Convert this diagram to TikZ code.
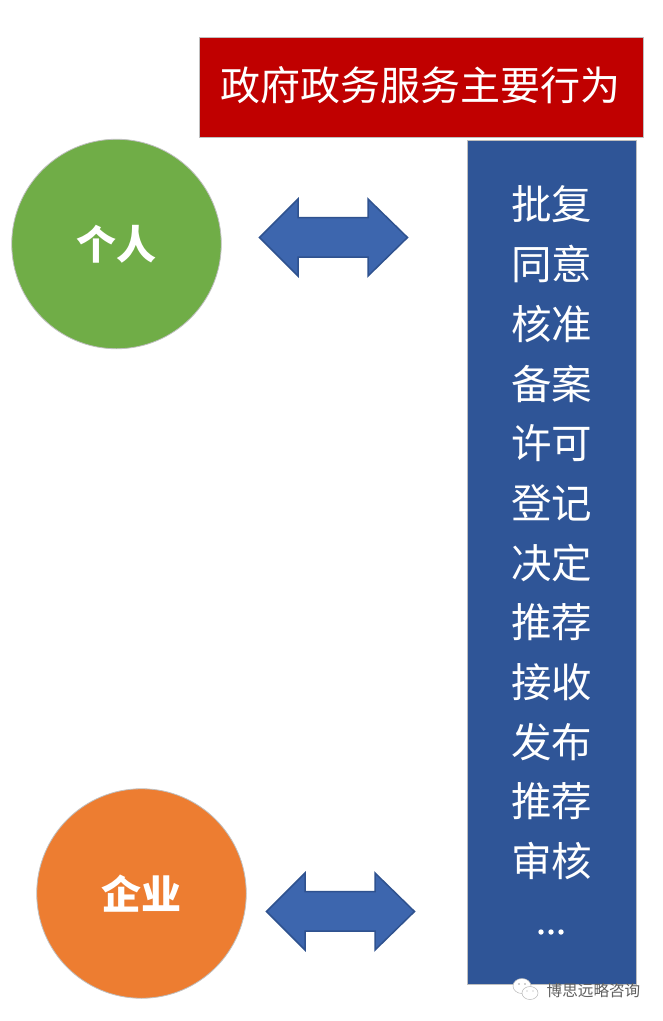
\documentclass[tikz,border=0pt]{standalone}
\usepackage{fontspec}
\newfontfamily\cjk{Noto Sans CJK SC}
\definecolor{titlered}{HTML}{C00000}
\definecolor{panelblue}{HTML}{2F5597}
\definecolor{arrowblue}{HTML}{3D66AE}
\definecolor{arrowedge}{HTML}{2F528F}
\definecolor{circgreen}{HTML}{70AD47}
\definecolor{circorange}{HTML}{ED7D31}
\definecolor{edgegrey}{HTML}{BFBFBF}
\tikzset{
  x=1pt,y=-1pt,
  boxshape/.style={draw=edgegrey,line width=1pt,inner sep=0pt,anchor=north west},
  circshape/.style={circle,draw=edgegrey,line width=.8pt,minimum size=209.5pt,inner sep=0pt,text=white,font=\fontsize{40}{40}\selectfont\cjk\bfseries},
  listitem/.style={text=white,font=\fontsize{40.5}{40.5}\selectfont\cjk,inner sep=0pt},
  dblarrow/.style={fill=arrowblue,draw=arrowedge,line width=1.5pt,line join=miter},
}
\begin{document}
\begin{tikzpicture}
\useasboundingbox (0,0) rectangle (663,1021);
\fill[white] (0,0) rectangle (663,1021);
\node[boxshape,fill=titlered,minimum width=444pt,minimum height=100pt] (title) at (199,37) {};
\node[text=white,font=\fontsize{40}{40}\selectfont\cjk,inner sep=0pt] (titletext) at (420,85) {政府政务服务主要行为};
\node[boxshape,fill=panelblue,minimum width=169pt,minimum height=844pt] (panel) at (467,140) {};
\node[circshape,fill=circgreen] (person) at (116.5,244) {个人};
\node[circshape,fill=circorange] (company) at (141.5,893.5) {企业};
\draw[dblarrow] (259.5,237.5) -- (298,199) -- (298,217.5) -- (368,217.5) -- (368,199) -- (407.5,237.5) -- (368,276) -- (368,257) -- (298,257) -- (298,276) -- cycle;
\draw[dblarrow] (266.5,911.5) -- (305,873) -- (305,891.5) -- (375,891.5) -- (375,873) -- (414.5,911.5) -- (375,950) -- (375,931) -- (305,931) -- (305,950) -- cycle;
\node[listitem] (l1) at (551.5,204) {批复};
\node[listitem] (l2) at (551.5,264) {同意};
\node[listitem] (l3) at (551.5,324) {核准};
\node[listitem] (l4) at (551.5,384) {备案};
\node[listitem] (l5) at (551.5,443.5) {许可};
\node[listitem] (l6) at (551.5,503) {登记};
\node[listitem] (l7) at (551.5,563) {决定};
\node[listitem] (l8) at (551.5,622) {推荐};
\node[listitem] (l9) at (551.5,682) {接收};
\node[listitem] (l10) at (551.5,742) {发布};
\node[listitem] (l11) at (551.5,801) {推荐};
\node[listitem] (l12) at (551.5,861) {审核};
\fill[white] (541,932) circle (2.7) (551,932) circle (2.7) (561,932) circle (2.7);
% watermark
\fill[white,draw=gray!55,line width=.5pt] (522,986) ellipse (9 and 7.5);
\fill[white,draw=gray!55,line width=.5pt] (530,993) ellipse (8 and 6.5);
\fill[gray!70] (519,984) circle (.8) (525,984) circle (.8) (527,991) circle (.7) (533,991) circle (.7);
\node[text=gray!75!black,font=\fontsize{15.6}{15.6}\selectfont\cjk,inner sep=0pt] (mark) at (593.5,991) {博思远略咨询};
\end{tikzpicture}
\end{document}
